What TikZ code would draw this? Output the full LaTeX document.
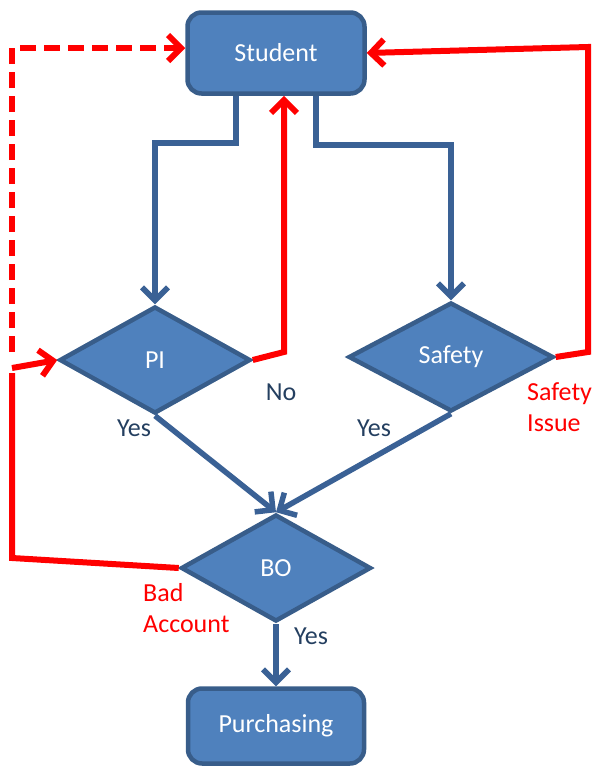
\documentclass[tikz,border=0pt]{standalone}
\usepackage{fontspec}
\setmainfont{Carlito}
\usetikzlibrary{arrows.meta,shapes.geometric}
\definecolor{boxfill}{HTML}{4F81BD}
\definecolor{boxline}{HTML}{385D8A}
\definecolor{conn}{HTML}{3A6195}
\definecolor{lbl}{HTML}{243F60}
\definecolor{redline}{HTML}{FF0000}
\begin{document}
\begin{tikzpicture}[x=1pt,y=-1pt,
  box/.style={draw=boxline, line width=4.5pt, fill=boxfill, rounded corners=14pt,
    text=white, font=\fontsize{26}{31}\selectfont, inner sep=0pt},
  dec/.style={diamond, aspect=1, draw=boxline, line width=4.5pt, fill=boxfill,
    text=white, font=\fontsize{26}{31}\selectfont, inner sep=0pt},
  bflow/.style={draw=conn, line width=5.5pt, line join=miter, -{Straight Barb[length=13pt,width=26pt]}},
  rflow/.style={draw=redline, line width=6pt, -{Straight Barb[length=13pt,width=26pt]}},
  rline/.style={draw=redline, line width=6pt},
  lab/.style={font=\fontsize{26}{31}\selectfont, text=lbl, inner sep=0pt},
  rlab/.style={font=\fontsize{26}{31}\selectfont, text=redline, inner sep=0pt, align=left, anchor=west}
]
\useasboundingbox (0,0) rectangle (597,769);

\node[box, minimum width=177pt, minimum height=81pt] (Student) at (276,53) {Student};
\node[box, minimum width=176pt, minimum height=75pt] (Purch) at (276,726) {Purchasing};
\node[dec, minimum width=191pt, minimum height=107pt] (PI) at (155,360) {PI};
\node[dec, minimum width=205pt, minimum height=109pt] (Safety) at (451,357) {Safety};
\node[dec, minimum width=190pt, minimum height=107pt] (BO) at (276,568) {BO};

% corner coordinates
\coordinate (s1) at (236,143);
\coordinate (s2) at (316,145);
\coordinate (r1) at (284,352);
\coordinate (r2) at (588,352);
\coordinate (r3) at (588,47);
\coordinate (r4) at (12,558);
\coordinate (r5) at (12,368);
\coordinate (r6) at (12,352);
\coordinate (r7) at (12,48);

% blue connectors
\draw[bflow] (Student.south -| s1) -- (s1) -| (PI.north);
\draw[bflow] (Student.south -| s2) -- (s2) -| (Safety.north);
\draw[bflow] (PI.south) -- (BO.north);
\draw[bflow] (Safety.south) -- (BO.north);
\draw[bflow] (BO.south) -- (Purch.north);

% red connectors
\draw[rflow] (PI.east) -- (r1) -- (r1 |- Student.south);
\draw[rflow] (Safety.east) -- (r2) -- (r3) -- (Student.east);
\draw[rline] (BO.west) -- (r4) -- ([yshift=-5pt]r5);
\draw[rflow] (r5) -- (PI.west);
\draw[rflow, dash pattern=on 16pt off 8pt] (r6) -- (r7) -- (Student.west |- r7);

% labels
\node[lab] (no) at (281,392) {No};
\node[lab] (y1) at (134,428) {Yes};
\node[lab] (y2) at (374,428) {Yes};
\node[lab] (y3) at (311,636) {Yes};
\node[rlab] (si) at (527,407) {Safety\\Issue};
\node[rlab] (ba) at (143,608) {Bad\\Account};
\end{tikzpicture}
\end{document}
